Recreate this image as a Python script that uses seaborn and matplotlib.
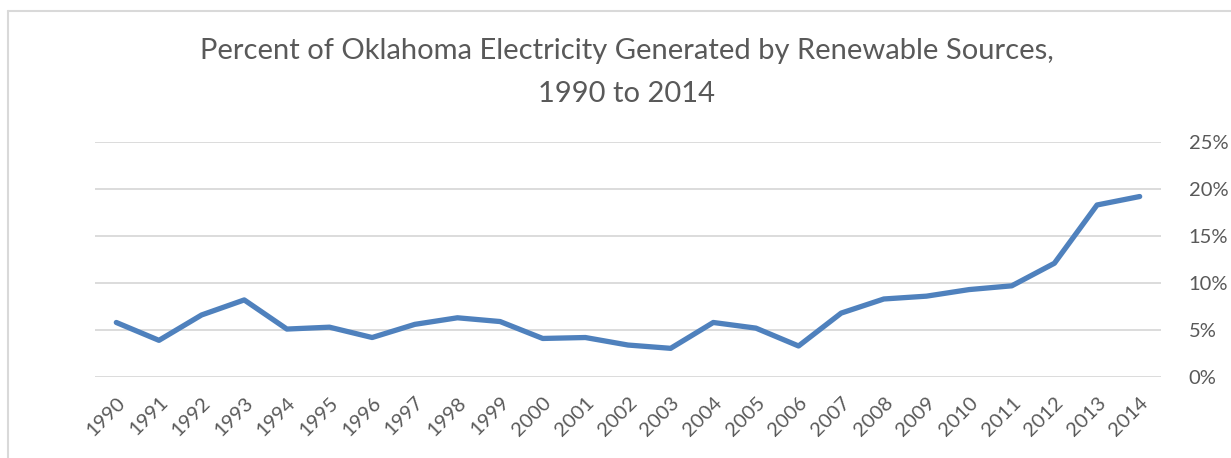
import numpy as np
import pandas as pd
import matplotlib
matplotlib.use("Agg")
import matplotlib.pyplot as plt
from matplotlib.ticker import PercentFormatter
from matplotlib.lines import Line2D
import seaborn as sns

years = list(range(1990, 2015))
renewable_pct = [5.8, 3.9, 6.6, 8.2, 5.1, 5.3, 4.2, 5.6, 6.3, 5.9,
                 4.1, 4.2, 3.4, 3.05, 5.8, 5.2, 3.3, 6.8, 8.3, 8.6,
                 9.3, 9.7, 12.1, 18.3, 19.2]

df = pd.DataFrame({"Year": years, "Percent": np.array(renewable_pct) / 100})

sns.set_style("white")
plt.rcParams['font.family'] = ['Lato', 'DejaVu Sans']

grey = "#595959"
fig = plt.figure(figsize=(12.31, 4.58), dpi=100)
ax = fig.add_axes([95 / 1231, 1 - 377 / 458, (1161 - 95) / 1231, (377 - 142) / 458])

sns.lineplot(data=df, x="Year", y="Percent", ax=ax, color="#4F81BD",
             linewidth=3.8, solid_capstyle="round", solid_joinstyle="round")

ax.set_xlim(1989.5, 2014.5)
ax.set_ylim(0, 0.25)
ax.set_yticks(np.arange(0, 0.26, 0.05))
ax.yaxis.set_major_formatter(PercentFormatter(1.0, decimals=0))
ax.yaxis.tick_right()
ax.set_xticks(years)
ax.set_xticklabels([str(y) for y in years], rotation=45, ha="right",
                   rotation_mode="anchor")
ax.tick_params(axis="y", length=0, pad=20, labelsize=14.5, labelcolor=grey)
ax.tick_params(axis="x", length=0, pad=12, labelsize=14.5, labelcolor=grey)
ax.grid(axis="y", color="#d9d9d9", linewidth=1.3)
ax.set_xlabel("")
ax.set_ylabel("")
for s in ax.spines.values():
    s.set_visible(False)

fig.text(0.509, 1 - 51 / 458, "Percent of Oklahoma Electricity Generated by Renewable Sources,",
         ha="center", va="center", fontsize=21, color=grey)
fig.text(0.509, 1 - 94 / 458, "1990 to 2014",
         ha="center", va="center", fontsize=21, color=grey)

# chart frame (left and top edges visible)
fig.add_artist(Line2D([8 / 1231, 8 / 1231], [0, 1 - 11 / 458], transform=fig.transFigure,
                      color="#d9d9d9", linewidth=1.5))
fig.add_artist(Line2D([8 / 1231, 1], [1 - 11 / 458, 1 - 11 / 458], transform=fig.transFigure,
                      color="#d9d9d9", linewidth=1.5))

fig.savefig("out.png", dpi=100)
